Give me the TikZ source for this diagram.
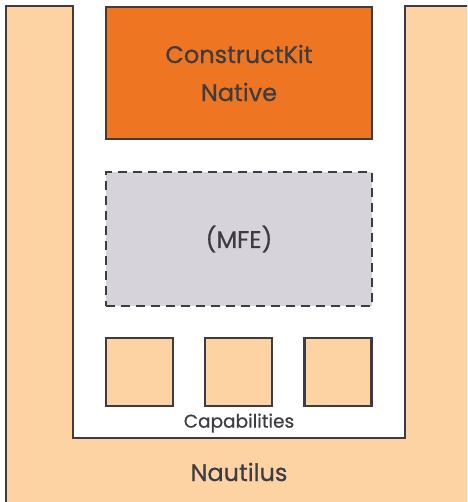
\documentclass[tikz,border=0pt]{standalone}
\usepackage{fontspec}
\setmainfont{Poppins}
\usetikzlibrary{positioning}
\definecolor{ink}{HTML}{3E3C42}
\definecolor{peach}{HTML}{FDD3A4}
\definecolor{rust}{HTML}{EE7623}
\definecolor{fog}{HTML}{D6D4DA}
\newcommand{\heavier}{\addfontfeatures{FakeBold=0.6}}
\tikzset{
  wall/.style={draw=ink, line width=2.6pt, line join=miter},
  box/.style={wall, rectangle, inner sep=0pt, text=ink, align=center},
  kit/.style={box, fill=rust, minimum width=266pt, minimum height=132pt, font=\fontsize{24}{38}\selectfont\heavier},
  slot/.style={box, fill=fog, dashed, dash pattern=on 9pt off 6pt, minimum width=266pt, minimum height=134pt, font=\fontsize{24}{30}\selectfont\heavier},
  capbox/.style={box, fill=peach, minimum width=67pt, minimum height=68pt},
  lab/.style={text=ink, inner sep=0pt},
}
\begin{document}
\begin{tikzpicture}[x=1pt, y=-1pt]
  \useasboundingbox (0,0) rectangle (467,502);
  \clip (0,0) rectangle (467,502);
  % host shell
  \fill[peach] (6,510) -- (6,6) -- (73,6) -- (73,438) -- (405,438) -- (405,6) -- (475,6) -- (475,510) -- cycle;
  \draw[wall] (6,510) -- (6,6) -- (73,6) -- (73,438) -- (405,438) -- (405,6) -- (475,6);
  \node[kit] (native) at (239,73) {ConstructKit\\Native};
  \node[slot] (mfe) at (239,239) {(MFE)};
  \node[capbox] (capA) at (139.5,372) {};
  \node[capbox, right=29.5pt of capA] (capB) {};
  \node[capbox, right=29.5pt of capB] (capC) {};
  \node[lab, font=\fontsize{18.5}{22}\selectfont\heavier] (caps) at (239,423) {Capabilities};
  \node[lab, font=\fontsize{24}{28}\selectfont\heavier] (host) at (239,472) {Nautilus};
\end{tikzpicture}
\end{document}
